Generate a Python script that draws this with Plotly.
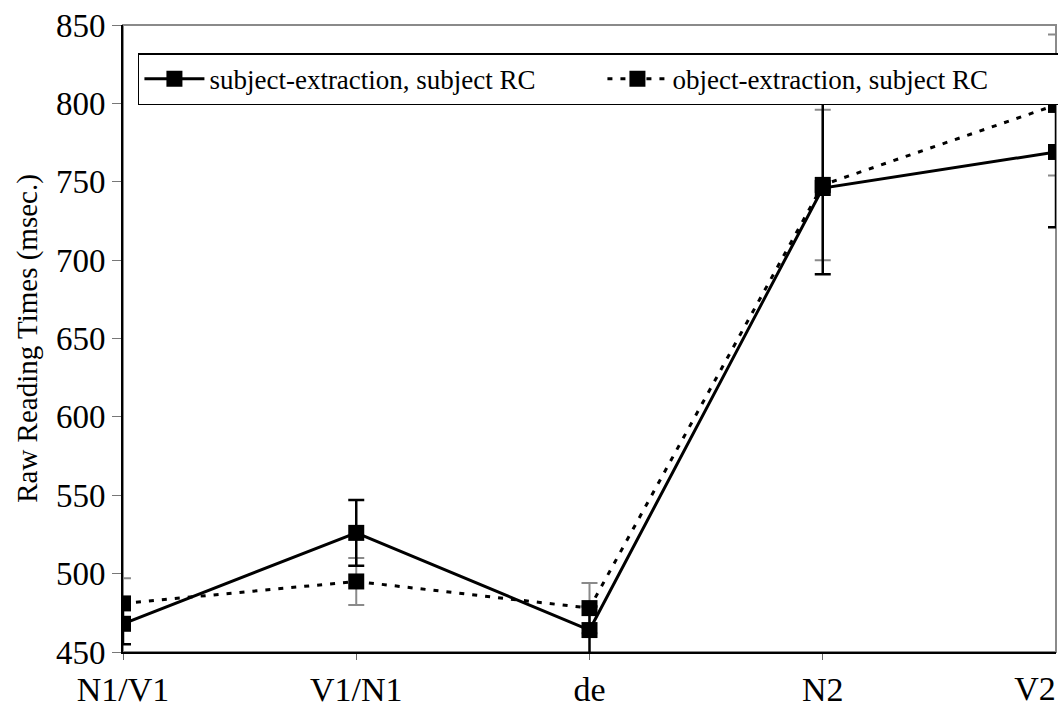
import plotly.graph_objects as go

categories = ["N1/V1", "V1/N1", "de", "N2", "V2"]

subj_rc_subj_ext = [468, 526, 464, 746, 769]
subj_rc_subj_ext_err = [13, 21, 15, 55, 48]
subj_rc_obj_ext = [481, 495, 478, 748, 799]
subj_rc_obj_ext_err = [16, 15, 16, 48, 45]

y_ticks = [450, 500, 550, 600, 650, 700, 750, 800, 850]

FONT = "Liberation Serif, Times New Roman, serif"

x_pos = list(range(len(categories)))

fig = go.Figure()

fig.add_trace(go.Scatter(
    x=x_pos, y=subj_rc_obj_ext,
    name="object-extraction, subject RC",
    mode="lines+markers",
    line=dict(color="black", width=3, dash="5px,8px"),
    marker=dict(symbol="square", size=16, color="black"),
    error_y=dict(type="data", array=subj_rc_obj_ext_err, color="#8a8a8a",
                 thickness=2, width=8),
))
fig.add_trace(go.Scatter(
    x=x_pos, y=subj_rc_subj_ext,
    name="subject-extraction, subject RC",
    mode="lines+markers",
    line=dict(color="black", width=3),
    marker=dict(symbol="square", size=16, color="black"),
    error_y=dict(type="data", array=subj_rc_subj_ext_err, color="black",
                 thickness=2.5, width=8),
))
# carrier trace so the secondary x-axis (last category label) is drawn
fig.add_trace(go.Scatter(
    x=x_pos[-1:], y=[None], xaxis="x2", yaxis="y",
    mode="markers", showlegend=False, hoverinfo="skip",
))

fig.add_shape(type="rect", xref="paper", yref="paper", x0=0, x1=1, y0=0, y1=1,
              line=dict(color="#8a8a8a", width=2), layer="below")

tickfont = dict(family=FONT, size=34, color="black")

fig.update_layout(
    width=1058, height=717,
    margin=dict(l=123, r=2, t=25, b=65, autoexpand=False),
    paper_bgcolor="white", plot_bgcolor="white",
    font=dict(family=FONT, color="black"),
    showlegend=True,
    legend=dict(
        orientation="h", traceorder="reversed",
        x=0.016, y=0.955, xanchor="left", yanchor="top",
        bgcolor="white", bordercolor="black", borderwidth=1.5,
        font=dict(family=FONT, size=27, color="black"),
        entrywidth=388, entrywidthmode="pixels",
        itemwidth=60,
    ),
    xaxis=dict(
        range=[0, len(categories) - 1], automargin=False,
        tickmode="array", tickvals=x_pos[:-1], ticktext=categories[:-1],
        showline=True, linecolor="black", linewidth=2,
        ticks="outside", ticklen=6, tickcolor="#666",
        showgrid=False, zeroline=False,
        tickfont=tickfont,
    ),
    xaxis2=dict(
        overlaying="x", anchor="y", side="bottom",
        range=[0, len(categories) - 1], automargin=False,
        tickmode="array", tickvals=x_pos[-1:], ticktext=categories[-1:],
        ticklabelshift=-21, ticks="outside", ticklen=6,
        tickcolor="rgba(0,0,0,0)", showline=False,
        showgrid=False, zeroline=False,
        tickfont=tickfont,
    ),
    yaxis=dict(
        range=[450, 850], tickvals=y_ticks, automargin=False,
        showline=True, linecolor="black", linewidth=2,
        ticks="outside", ticklen=9, tickcolor="#777",
        showgrid=False, zeroline=False,
        tickfont=dict(family=FONT, size=33, color="black"),
        title=dict(text="Raw Reading Times (msec.)",
                   font=dict(family=FONT, size=29, color="black"), standoff=10),
    ),
)

fig.write_html("out.html")
